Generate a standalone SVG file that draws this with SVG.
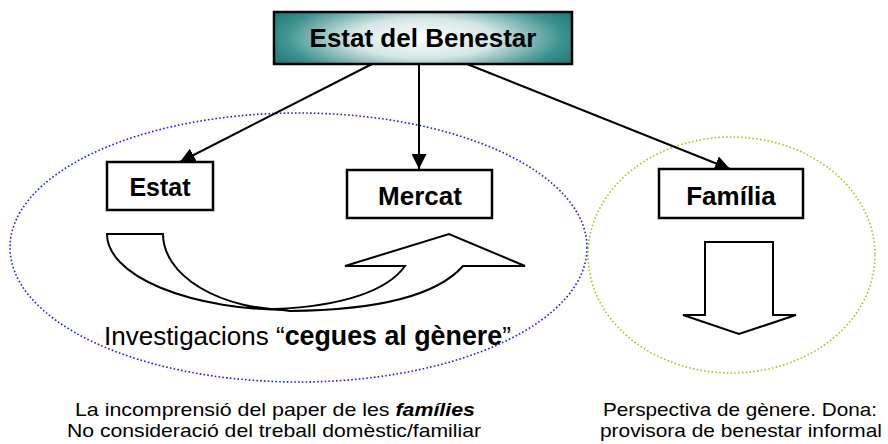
<svg xmlns="http://www.w3.org/2000/svg" width="888" height="444" viewBox="0 0 888 444">
<style>
.box{fill:#fff;stroke:#000;stroke-width:2.5}
.lbl{font-family:"Liberation Sans",Arial,sans-serif;font-weight:bold;text-anchor:middle;fill:#000}
.txt{font-family:"Liberation Sans",Arial,sans-serif;fill:#000}
.small{font-family:"Liberation Sans",Arial,sans-serif;fill:#000;font-size:18.5px}
.con{stroke:#000;stroke-width:2;fill:none;marker-end:url(#ah)}
.shape{fill:#fff;stroke:#000;stroke-width:2;stroke-linejoin:miter}
</style>
<defs>
<radialGradient id="tg" cx="50%" cy="50%" r="60%" fx="50%" fy="50%" gradientTransform="translate(0.5 0.5) scale(1 1.6) translate(-0.5 -0.5)">
<stop offset="0" stop-color="#ffffff"/>
<stop offset="0.4" stop-color="#d4e6e5"/>
<stop offset="0.78" stop-color="#3b9290"/>
<stop offset="1" stop-color="#1a7472"/>
</radialGradient>
<marker id="ah" markerUnits="userSpaceOnUse" markerWidth="15" markerHeight="15" refX="15" refY="7.5" orient="auto">
<path d="M0,0 L15,7.5 L0,15 Z" fill="#000"/>
</marker>
</defs>

<g id="ellipses">
<ellipse cx="298.5" cy="247.5" rx="288.5" ry="134.5" fill="none" stroke="#1a1aff" stroke-width="1.6" stroke-dasharray="1.6 2.2"/>
<ellipse cx="731.5" cy="255" rx="143.5" ry="118" fill="none" stroke="#a6c81e" stroke-width="1.6" stroke-dasharray="1.6 2.2"/>
</g>

<g id="connectors">
<line class="con" x1="372" y1="64" x2="180" y2="162"/>
<line class="con" x1="419" y1="64" x2="419" y2="169"/>
<line class="con" x1="467" y1="64" x2="730" y2="169"/>
</g>

<g id="n-benestar">
<rect x="274" y="12" width="298" height="52" fill="url(#tg)" stroke="#000" stroke-width="2.5"/>
<text class="lbl" x="423" y="47" font-size="26">Estat del Benestar</text>
</g>

<g id="n-estat">
<rect class="box" x="107" y="162" width="106" height="48"/>
<text class="lbl" x="160" y="196" font-size="25">Estat</text>
</g>

<g id="n-mercat">
<rect class="box" x="347" y="170" width="145" height="48"/>
<text class="lbl" x="420" y="205" font-size="26">Mercat</text>
</g>

<g id="n-familia">
<rect class="box" x="659" y="169" width="144" height="49"/>
<text class="lbl" x="731" y="205" font-size="26">Família</text>
</g>

<g id="curved-arrow">
<path class="shape" d="M107,234 H163 A127,76 0 0 0 290,310 A183,76 0 0 1 107,234 Z"/>
<path class="shape" d="M275,309 C345,306 388,290 405,266 H345 L449,234 L525,266 H463 C440,292 390,310 290,311 Z"/>
</g>

<g id="down-arrow">
<path class="shape" d="M705,242 H773 V315 H796 L739,334 L683,315 H705 Z"/>
</g>

<g id="texts">
<text class="txt" x="104" y="345" font-size="26">Investigacions “<tspan font-weight="bold" font-size="26.8">cegues al gènere</tspan>”</text>
<text class="small" x="75" y="416" textLength="400" lengthAdjust="spacingAndGlyphs">La incomprensió del paper de les <tspan font-weight="bold" font-style="italic">famílies</tspan></text>
<text class="small" x="67" y="437" textLength="414" lengthAdjust="spacingAndGlyphs">No consideració del treball domèstic/familiar</text>
<text class="small" x="603" y="416" textLength="274" lengthAdjust="spacingAndGlyphs">Perspectiva de gènere. Dona:</text>
<text class="small" x="600" y="437" textLength="282" lengthAdjust="spacingAndGlyphs">provisora de benestar informal</text>
</g>
</svg>
